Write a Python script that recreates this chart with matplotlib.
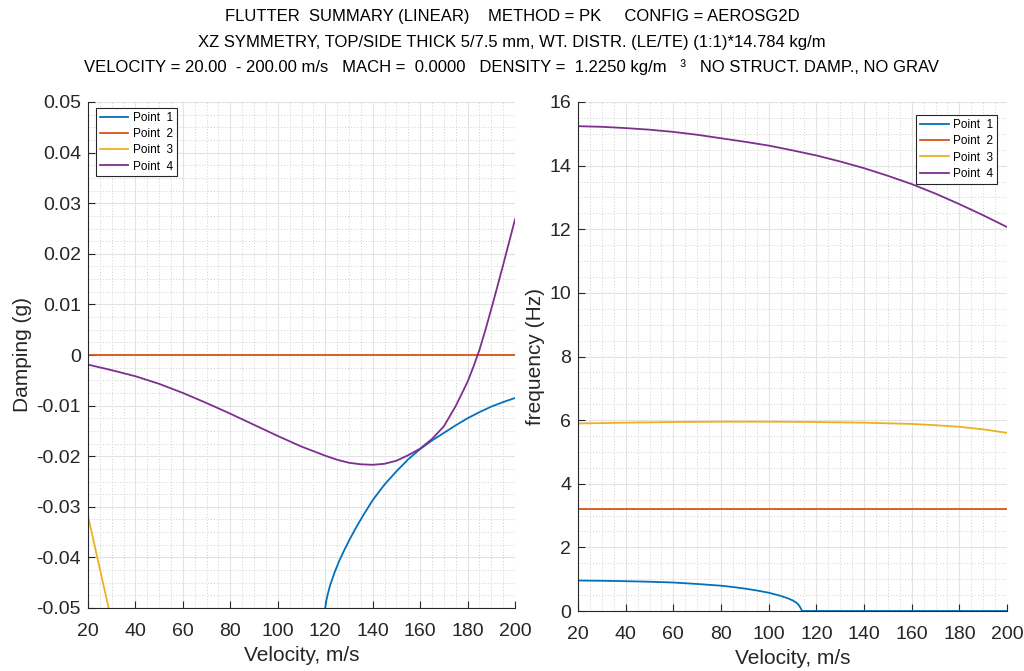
import matplotlib
matplotlib.use("Agg")
import matplotlib.pyplot as plt
from matplotlib.ticker import MultipleLocator, FixedLocator

plt.rcParams['font.family'] = ['Liberation Sans', 'DejaVu Sans']

# ---------------- data ----------------
series_labels = ["Point  1", "Point  2", "Point  3", "Point  4"]
colors = ["#0072BD", "#D95319", "#EDB120", "#7E2F8E"]

# Damping (g)
v_damp1 = [119.8, 120, 120.5, 121, 122, 124, 126, 128, 130, 133, 136, 140, 145, 150,
           155, 160, 165, 170, 175, 180, 185, 190, 195, 200]
g_damp1 = [-0.0525, -0.0500, -0.0485, -0.0474, -0.0456, -0.0429, -0.0406, -0.0386,
           -0.0367, -0.0341, -0.0317, -0.0287, -0.0256, -0.0230, -0.0206, -0.0186,
           -0.0169, -0.0154, -0.0139, -0.0125, -0.0113, -0.0102, -0.0093, -0.0085]
v_damp2 = [20, 200]
g_damp2 = [0.0, 0.0]
v_damp3 = [20, 25, 30]
g_damp3 = [-0.0318, -0.0423, -0.0527]
v_damp4 = [20, 30, 40, 50, 60, 70, 80, 90, 100, 110, 120, 125, 130, 135, 140, 145,
           150, 155, 160, 165, 170, 175, 180, 182.5, 185, 187.5, 190, 192.5, 195,
           197.5, 200]
g_damp4 = [-0.0019, -0.0030, -0.0042, -0.0057, -0.0075, -0.0095, -0.0116, -0.0138,
           -0.0160, -0.0181, -0.0199, -0.0207, -0.0213, -0.0216, -0.0217, -0.0215,
           -0.0209, -0.0198, -0.0185, -0.0166, -0.0141, -0.0101, -0.0053, -0.0023,
           0.0010, 0.0049, 0.0091, 0.0134, 0.0178, 0.0223, 0.0268]

# Frequency (Hz)
v_freq1 = [20, 30, 40, 50, 60, 70, 80, 85, 90, 95, 100, 105, 108, 110, 111.5, 112.5,
           113.2, 113.7, 114, 200]
f_freq1 = [0.958, 0.950, 0.937, 0.920, 0.895, 0.850, 0.795, 0.755, 0.705, 0.645,
           0.575, 0.475, 0.400, 0.335, 0.270, 0.200, 0.120, 0.050, 0.0, 0.0]
v_freq2 = [20, 200]
f_freq2 = [3.22, 3.22]
v_freq3 = [20, 40, 60, 80, 100, 120, 140, 160, 170, 180, 190, 200]
f_freq3 = [5.895, 5.92, 5.94, 5.95, 5.95, 5.94, 5.92, 5.88, 5.84, 5.79, 5.71, 5.60]
v_freq4 = [20, 30, 40, 50, 60, 70, 80, 90, 100, 110, 120, 130, 140, 150, 160, 170,
           180, 190, 200]
f_freq4 = [15.24, 15.22, 15.18, 15.13, 15.06, 14.97, 14.86, 14.75, 14.63, 14.48,
           14.32, 14.13, 13.92, 13.68, 13.42, 13.12, 12.79, 12.44, 12.07]

x_ticks = [20, 40, 60, 80, 100, 120, 140, 160, 180, 200]
damp_ticks = [-0.05, -0.04, -0.03, -0.02, -0.01, 0, 0.01, 0.02, 0.03, 0.04, 0.05]
damp_ticklabels = ["-0.05", "-0.04", "-0.03", "-0.02", "-0.01", "0", "0.01", "0.02",
                   "0.03", "0.04", "0.05"]
freq_ticks = [0, 2, 4, 6, 8, 10, 12, 14, 16]

title_lines = [
    "FLUTTER  SUMMARY (LINEAR)    METHOD = PK     CONFIG = AEROSG2D",
    "XZ SYMMETRY, TOP/SIDE THICK 5/7.5 mm, WT. DISTR. (LE/TE) (1:1)*14.784 kg/m",
    "VELOCITY = 20.00  - 200.00 m/s   MACH =  0.0000   DENSITY =  1.2250 kg/m   \u00b3   NO STRUCT. DAMP., NO GRAV",
]

# ---------------- figure ----------------
W, H = 1024, 671
fig = plt.figure(figsize=(W / 100, H / 100), dpi=100)

def px_axes(x0, y0, x1, y1):
    return fig.add_axes([x0 / W, 1 - y1 / H, (x1 - x0) / W, (y1 - y0) / H])

ax1 = px_axes(88, 102, 515, 608)
ax2 = px_axes(578, 102, 1007, 611)

text_col = "#262626"

def style(ax):
    ax.set_facecolor("white")
    for s in ["top", "right"]:
        ax.spines[s].set_visible(False)
    for s in ["left", "bottom"]:
        ax.spines[s].set_color("#262626")
        ax.spines[s].set_linewidth(0.8)
    ax.tick_params(which="major", direction="in", length=5, width=0.8,
                   colors=text_col, labelsize=14, top=False, right=False)
    ax.tick_params(axis="x", which="major", pad=11)
    ax.tick_params(axis="y", which="major", pad=5)
    ax.tick_params(which="minor", length=0)
    ax.grid(True, which="major", color="#e3e3e3", linewidth=0.8, linestyle="-")
    ax.grid(True, which="minor", color="#d0d0d0", linewidth=0.7, linestyle=(0, (1, 2)))
    ax.set_axisbelow(True)
    ax.xaxis.set_major_locator(FixedLocator(x_ticks))
    ax.xaxis.set_minor_locator(MultipleLocator(5))
    ax.set_xlim(20, 200)
    ax.set_xlabel("Velocity, m/s", fontsize=15, color=text_col, labelpad=4)

lw = 1.3
# Left: damping
style(ax1)
ax1.plot(v_damp1, g_damp1, color=colors[0], lw=lw, label=series_labels[0])
ax1.plot(v_damp2, g_damp2, color=colors[1], lw=lw, label=series_labels[1])
ax1.plot(v_damp3, g_damp3, color=colors[2], lw=lw, label=series_labels[2])
ax1.plot(v_damp4, g_damp4, color=colors[3], lw=lw, label=series_labels[3])
ax1.set_ylim(-0.05, 0.05)
ax1.yaxis.set_major_locator(FixedLocator(damp_ticks))
ax1.set_yticklabels(damp_ticklabels)
ax1.yaxis.set_minor_locator(MultipleLocator(0.0025))
ax1.set_ylabel("Damping (g)", fontsize=15, color=text_col, labelpad=3)
leg_kw = dict(borderaxespad=0, fontsize=8.5, fancybox=False, framealpha=1,
              edgecolor="#262626", handlelength=2.4, handletextpad=0.4,
              labelspacing=0.36, borderpad=0.32)
leg1 = ax1.legend(loc="upper left", bbox_to_anchor=(0.0187, 0.988), **leg_kw)
leg1.get_frame().set_linewidth(0.8)

# Right: frequency
style(ax2)
ax2.plot(v_freq1, f_freq1, color=colors[0], lw=lw, label=series_labels[0])
ax2.plot(v_freq2, f_freq2, color=colors[1], lw=lw, label=series_labels[1])
ax2.plot(v_freq3, f_freq3, color=colors[2], lw=lw, label=series_labels[2])
ax2.plot(v_freq4, f_freq4, color=colors[3], lw=lw, label=series_labels[3])
ax2.set_ylim(0, 16)
ax2.yaxis.set_major_locator(FixedLocator(freq_ticks))
ax2.yaxis.set_minor_locator(MultipleLocator(0.5))
ax2.set_ylabel("frequency (Hz)", fontsize=15, color=text_col, labelpad=3)
leg2 = ax2.legend(loc="upper right", bbox_to_anchor=(0.977, 0.974), **leg_kw)
leg2.get_frame().set_linewidth(0.8)

# Titles
for i, line in enumerate(title_lines):
    fig.text(0.5, 1 - (17 + 25 * i) / H, line, ha="center", va="center",
             fontsize=12, color="black")

fig.savefig("out.png", dpi=100)
